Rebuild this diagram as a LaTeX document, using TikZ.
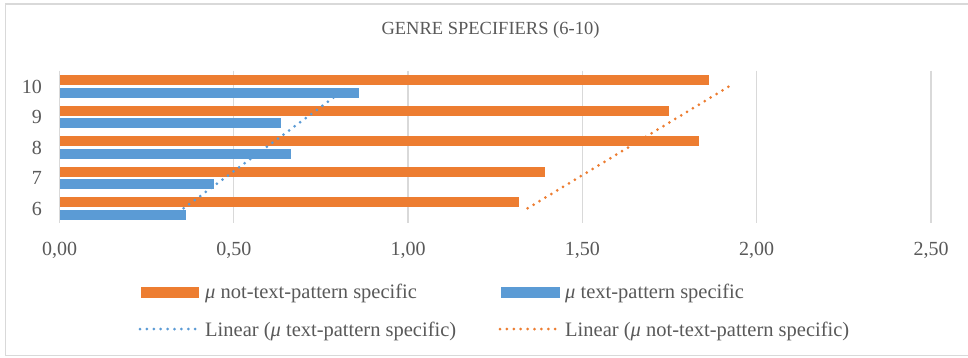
\documentclass[tikz,border=0pt]{standalone}
\usepackage{fontspec}
\setmainfont{Liberation Serif}
\definecolor{borange}{HTML}{ED7D31}
\definecolor{bblue}{HTML}{5B9BD5}
\definecolor{gridc}{HTML}{D9D9D9}
\definecolor{txt}{HTML}{595959}
\begin{document}
\begin{tikzpicture}[x=1pt,y=-1pt,
  lbl/.style={text=txt, font=\fontsize{20}{24}\selectfont, inner sep=0pt},
  leg/.style={text=txt, font=\fontsize{20.5}{24}\selectfont, inner sep=0pt},
  ttl/.style={text=txt, font=\fontsize{18.5}{22}\selectfont, inner sep=0pt},
  gridline/.style={draw=gridc, line width=1.3pt},
  otrend/.style={draw=borange, line width=3pt, line cap=round, dash pattern=on 0pt off 6.9pt},
  btrend/.style={draw=bblue, line width=3pt, line cap=round, dash pattern=on 0pt off 6.9pt}]
\useasboundingbox (0,0) rectangle (968,357);
\fill[white] (0,0) rectangle (968,357);
\draw[gridc, line width=1.3pt] (5.5,4) rectangle (985,355.5);
% title
\node[ttl] (title) at (490.5,30) {GENRE SPECIFIERS (6-10)};
% grid lines and x labels
\foreach \i/\t in {0/{0,00},1/{0,50},2/{1,00},3/{1,50},4/{2,00},5/{2,50}} {
  \draw[gridline] ({59.5+174.3*\i},70.7) -- ({59.5+174.3*\i},223.3);
  \node[lbl, anchor=base] (xl\i) at ({59.5+174.3*\i},255.5) {\t};
}
% bars
\foreach \k/\o/\b in {0/1.319/0.363, 1/1.394/0.443, 2/1.835/0.663, 3/1.747/0.635, 4/1.864/0.860} {
  \pgfmathsetmacro\yc{208.3-30.5*\k}
  \pgfmathtruncatemacro\lab{6+\k}
  \fill[borange] (59.5,{\yc-11.3}) rectangle ({59.5+348.6*\o},{\yc-1.2});
  \fill[bblue] (59.5,{\yc+1.2}) rectangle ({59.5+348.6*\b},{\yc+11.3});
  \node[lbl, anchor=base east] (yl\lab) at (42,{\yc+6.8}) {\lab};
}
% trend lines
\coordinate (bt0) at ({59.5+348.6*0.356},208.3);
\coordinate (bt1) at ({59.5+348.6*0.830},86.3);
\coordinate (ot0) at ({59.5+348.6*1.343},208.3);
\coordinate (ot1) at ({59.5+348.6*1.921},86.3);
\draw[btrend] (bt0) -- (bt1);
\draw[otrend] (ot0) -- (ot1);
% legend
\fill[borange] (141,287.3) rectangle (199,297.5);
\node[leg, anchor=base west] (lg1) at (205,298.5) {\textit{μ} not-text-pattern specific};
\fill[bblue] (501,287.3) rectangle (560,297.5);
\node[leg, anchor=base west] (lg2) at (565,298.5) {\textit{μ} text-pattern specific};
\coordinate (lb0) at (140,329);
\coordinate (lb1) at (197,329);
\draw[btrend] (lb0) -- (lb1);
\node[leg, anchor=base west] (lg3) at (205,336) {Linear (\textit{μ} text-pattern specific)};
\coordinate (lo0) at (500,329);
\coordinate (lo1) at (557,329);
\draw[otrend] (lo0) -- (lo1);
\node[leg, anchor=base west] (lg4) at (565,336) {Linear (\textit{μ} not-text-pattern specific)};
\end{tikzpicture}
\end{document}
